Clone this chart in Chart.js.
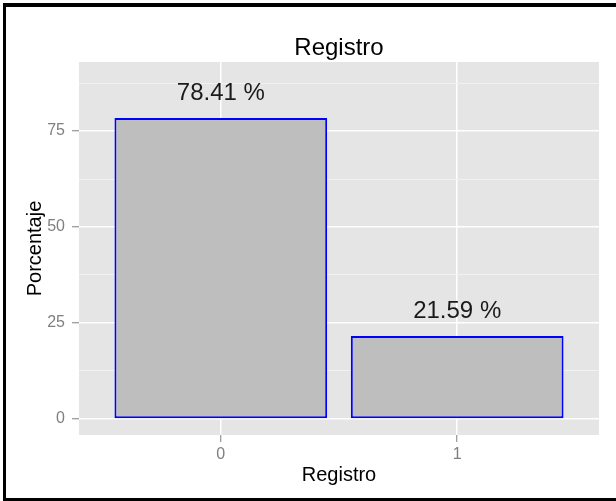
<!DOCTYPE html>
<html>
<head>
<meta charset="utf-8">
<script src="https://cdn.jsdelivr.net/npm/chart.js@4/dist/chart.umd.min.js"></script>
<style>
  html, body { margin: 0; padding: 0; background: #fff; }
  #wrap { width: 616px; height: 501px; position: relative; }
</style>
</head>
<body>
<div id="wrap"><canvas id="chart" width="616" height="501"></canvas></div>
<script>
// datos del grafico
const categories = ['0', '1'];
const porcentajes = [78.41, 21.59];
const yMajorTicks = [0, 25, 50, 75];
const yMinorTicks = [12.5, 37.5, 62.5, 87.5];
const plotTitle = 'Registro';
const xTitle = 'Registro';
const yTitle = 'Porcentaje';

const FONT = "'Liberation Sans', Arial, Helvetica, sans-serif";
Chart.defaults.font.family = FONT;

// fondo gris del panel + marco negro
const panelPlugin = {
    id: 'panel',
    beforeDraw(chart) {
        const { ctx, chartArea: a } = chart;
        ctx.save();
        ctx.fillStyle = '#E5E5E5';
        ctx.fillRect(a.left, a.top, a.right - a.left, a.bottom - a.top);
        ctx.restore();
    },
    afterDraw(chart) {
        const { ctx, chartArea: a, width, height } = chart;
        ctx.save();
        // marco
        ctx.fillStyle = '#000';
        ctx.fillRect(3, 3, width - 3, 4);
        ctx.fillRect(3, 3, 3, height - 3);
        ctx.fillRect(3, height - 3, width - 3, 3);
        // titulo centrado sobre el panel
        ctx.fillStyle = '#000';
        ctx.font = '24px ' + FONT;
        ctx.textAlign = 'center';
        ctx.textBaseline = 'alphabetic';
        ctx.fillText(plotTitle, (a.left + a.right) / 2, 55);
        ctx.restore();
    }
};

// etiquetas de porcentaje encima de las barras
const labelPlugin = {
    id: 'barLabels',
    afterDatasetsDraw(chart) {
        const { ctx } = chart;
        const meta = chart.getDatasetMeta(0);
        ctx.save();
        ctx.fillStyle = '#1a1a1a';
        ctx.font = '24px ' + FONT;
        ctx.textAlign = 'center';
        ctx.textBaseline = 'alphabetic';
        meta.data.forEach((bar, i) => {
            ctx.fillText(porcentajes[i].toFixed(2) + ' %', bar.x, bar.y - 18);
        });
        ctx.restore();
    }
};

const isMajor = v => yMajorTicks.includes(v);

new Chart(document.getElementById('chart'), {
    type: 'bar',
    data: {
        datasets: [{
            data: porcentajes.map((v, i) => ({ x: i, y: v })),
            backgroundColor: '#BEBEBE',
            borderColor: '#0000FF',
            borderWidth: 2,
            borderSkipped: false,
            barPercentage: 0.9,
            categoryPercentage: 1.0
        }]
    },
    options: {
        responsive: false,
        animation: false,
        layout: { padding: { top: 62, left: 0, right: 17, bottom: 0 } },
        plugins: {
            legend: { display: false },
            title: { display: false },
            tooltip: { enabled: false }
        },
        scales: {
            x: {
                type: 'linear',
                offset: false,
                min: -0.6,
                max: 1.6,
                afterBuildTicks: s => { s.ticks = categories.map((c, i) => ({ value: i })); },
                afterFit: s => { s.height = 66; },
                border: { display: false },
                grid: {
                    offset: false,
                    color: '#FFFFFF',
                    lineWidth: 1.5,
                    tickLength: 7,
                    tickColor: '#7F7F7F',
                    tickWidth: 1
                },
                ticks: {
                    autoSkip: false,
                    maxRotation: 0,
                    padding: 3,
                    color: '#7F7F7F',
                    font: { size: 16 },
                    callback: v => categories[v]
                },
                title: {
                    display: true,
                    text: xTitle,
                    color: '#000',
                    font: { size: 20 },
                    padding: { top: 0, bottom: 14 }
                }
            },
            y: {
                min: -4.2,
                max: 93,
                afterBuildTicks: s => {
                    s.ticks = yMajorTicks.concat(yMinorTicks).sort((a, b) => a - b).map(v => ({ value: v }));
                },
                afterFit: s => { s.width = 79; },
                border: { display: false },
                grid: {
                    color: c => isMajor(c.tick.value) ? '#FFFFFF' : '#F2F2F2',
                    lineWidth: c => isMajor(c.tick.value) ? 1.5 : 1,
                    tickLength: 7,
                    tickColor: c => isMajor(c.tick.value) ? '#7F7F7F' : 'rgba(0,0,0,0)',
                    tickWidth: 1
                },
                ticks: {
                    padding: 7,
                    color: '#7F7F7F',
                    font: { size: 16 },
                    callback: v => isMajor(v) ? String(v) : ''
                },
                title: {
                    display: true,
                    text: yTitle,
                    color: '#000',
                    font: { size: 20 },
                    padding: { top: 23, bottom: 0 }
                }
            }
        }
    },
    plugins: [panelPlugin, labelPlugin]
});
</script>
</body>
</html>
